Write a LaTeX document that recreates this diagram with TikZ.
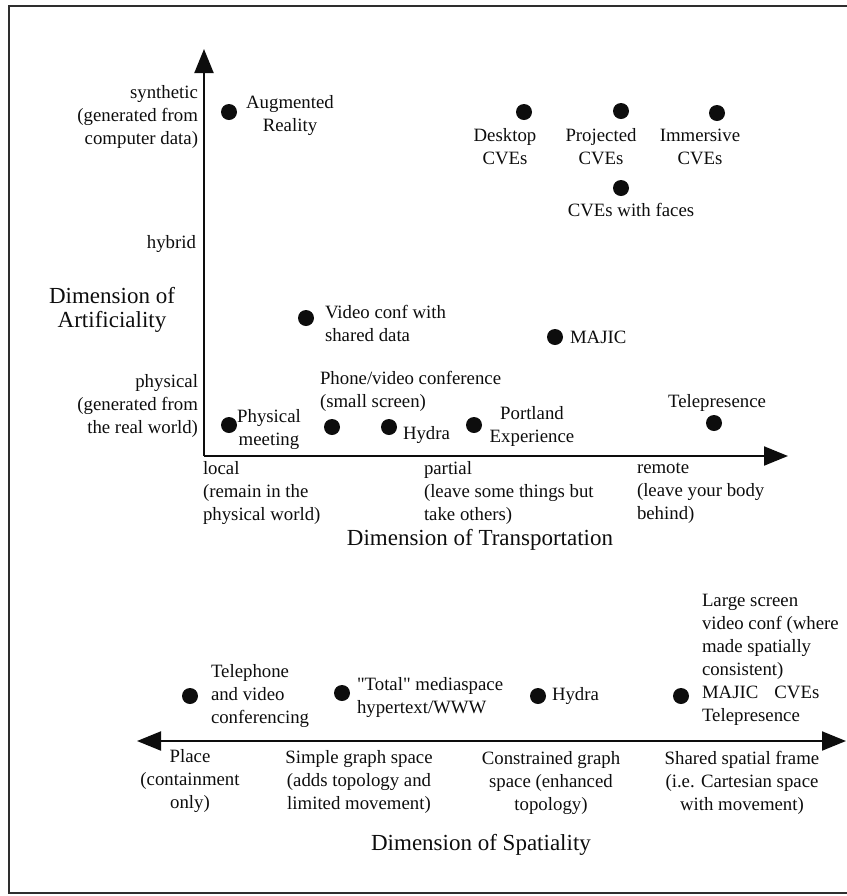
\documentclass[tikz,border=0pt]{standalone}
\usepackage{fontspec}
\setmainfont{Liberation Serif}
\usetikzlibrary{arrows.meta}
\definecolor{SpaceInk}{gray}{0.05}
\definecolor{SpaceFrame}{gray}{0.18}
\tikzset{
    space/diagram/.style={
        x=0.5pt, y=-0.5pt,
        font=\fontsize{9.4}{11.5}\selectfont,
        text=SpaceInk,
        every node/.style={inner sep=0pt, outer sep=0pt}
    },
    space/frame/.style={draw=SpaceFrame, line width=1.1pt},
    space/axis/.style={
        draw=SpaceInk, line width=1pt,
        -{Triangle[length=12pt, width=9.5pt]}
    },
    space/range/.style={
        draw=SpaceInk, line width=1pt,
        {Triangle[length=12pt, width=9.5pt]}-{Triangle[length=12pt, width=9.5pt]}
    },
    space/point/.style={circle, fill=SpaceInk, draw=none, minimum size=8pt},
    space/note/.style={align=left, anchor=west},
    space/tag/.style={align=center},
    space/end/.style={align=right, anchor=east},
    space/title/.style={align=center, font=\fontsize{11.5}{12}\selectfont}
}

\begin{document}
\begin{tikzpicture}[space/diagram]
    \useasboundingbox (0,0) rectangle (847,896);
    \draw[space/frame] (847,6) -- (9,6) -- (9,893) -- (847,893);

    % axes
    \coordinate (origin) at (204,456);
    \coordinate (artTop) at (204,49);
    \coordinate (transEnd) at (788,456);
    \coordinate (placeEnd) at (137,741);
    \coordinate (frameEnd) at (846,741);
    \draw[space/axis] (origin) -- (artTop);
    \draw[space/axis] (origin) -- (transEnd);
    \draw[space/range] (placeEnd) -- (frameEnd);

    % artificiality scale
    \node[space/end] (synthetic) at (198,117) {synthetic\\(generated from\\computer data)};
    \node[space/end] (hybrid) at (196,244) {hybrid};
    \node[space/end] (physical) at (198,406) {physical\\(generated from\\the real world)};
    \node[space/title] (artificiality) at (112,310) {Dimension of\\Artificiality};

    % transportation scale
    \node[space/note] (local) at (203,493) {local\\(remain in the\\physical world)};
    \node[space/note] (partial) at (424,493) {partial\\(leave some things but\\take others)};
    \node[space/note] (remote) at (637,493) {remote\\(leave your body\\behind)};
    \node[space/title] (transportation) at (480,540) {Dimension of Transportation};

    % systems in the upper chart
    \node[space/point] (augmented) at (229,112) {};
    \node[space/tag] (augmentedText) at (290,115) {Augmented\\Reality};
    \node[space/point] (desktop) at (524,112) {};
    \node[space/tag] (desktopText) at (505,147) {Desktop\\CVEs};
    \node[space/point] (projected) at (621,111) {};
    \node[space/tag] (projectedText) at (601,147) {Projected\\CVEs};
    \node[space/point] (immersive) at (717,113) {};
    \node[space/tag] (immersiveText) at (700,147) {Immersive\\CVEs};
    \node[space/point] (faces) at (621,188) {};
    \node[space/tag] (facesText) at (631,210) {CVEs with faces};
    \node[space/point] (shared) at (306,318) {};
    \node[space/note] (sharedText) at (325,323) {Video conf with\\shared data};
    \node[space/point] (majic) at (555,337) {};
    \node[space/note] (majicText) at (570,337) {MAJIC};
    \node[space/point] (meeting) at (229,425) {};
    \node[space/tag] (meetingText) at (269,429) {Physical\\meeting};
    \node[space/note] (phoneText) at (320,391.5) {Phone/video conference\\(small screen)};
    \node[space/point] (phone) at (332,427) {};
    \node[space/point] (hydra) at (389,427) {};
    \node[space/note] (hydraText) at (403,435) {Hydra};
    \node[space/point] (portland) at (474,425) {};
    \node[space/tag] (portlandText) at (532,426) {Portland\\Experience};
    \node[space/point] (telepresence) at (714,423) {};
    \node[space/tag] (telepresenceText) at (717,403) {Telepresence};

    % spatiality scale
    \node[space/point] (telephone) at (190,696) {};
    \node[space/note] (telephoneText) at (211,696) {Telephone\\and video\\conferencing};
    \node[space/point] (total) at (342,693) {};
    \node[space/note] (totalText) at (357,697) {\textquotedbl Total\textquotedbl\ mediaspace\\hypertext/WWW};
    \node[space/point] (hydraSpace) at (538,696) {};
    \node[space/note] (hydraSpaceText) at (552,696) {Hydra};
    \node[space/point] (cartesian) at (681,696) {};
    \node[space/note] (cartesianText) at (702,659.5)
        {Large screen\\video conf (where\\made spatially\\consistent)\\MAJIC\hspace{8pt}CVEs\\Telepresence};
    \node[space/tag] (place) at (190,781) {Place\\(containment\\only)};
    \node[space/tag] (simple) at (359,782) {Simple graph space\\(adds topology and\\limited movement)};
    \node[space/tag] (constrained) at (551,783) {Constrained graph\\space (enhanced\\topology)};
    \node[space/tag] (frame) at (742,783) {Shared spatial frame\\(i.e. Cartesian space\\with movement)};
    \node[space/title] (spatiality) at (481,845) {Dimension of Spatiality};
\end{tikzpicture}
\end{document}
